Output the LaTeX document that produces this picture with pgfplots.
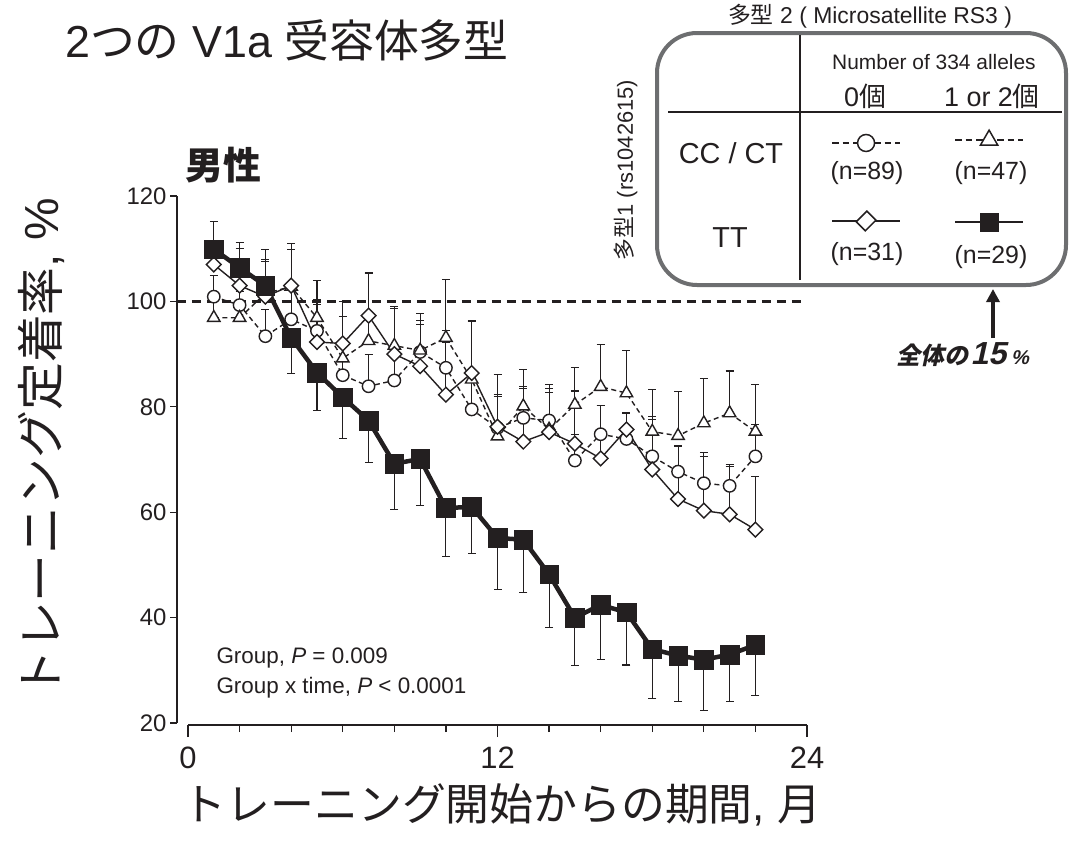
\documentclass[border=0pt]{standalone}
\usepackage{fontspec}
\setmainfont{Liberation Sans}
\newfontfamily\jp{Noto Sans CJK JP}
\usepackage{pgfplots}
\pgfplotsset{compat=1.18}
\usetikzlibrary{arrows.meta}
\definecolor{ink}{HTML}{231F20}
\definecolor{boxgray}{HTML}{6D6E70}
\newcommand{\fs}[1]{\fontsize{#1}{#1}\selectfont}
\begin{document}
\begin{tikzpicture}
\path[use as bounding box] (0bp,0bp) rectangle (1078bp,-845bp);
\begin{axis}[
  at={(188bp,-723bp)}, anchor=south west,
  scale only axis, width=619bp, height=527bp,
  xmin=0, xmax=24, ymin=20, ymax=120,
  axis lines=left, axis line style={-, line width=1.5bp, ink},
  axis y line shift=11bp, axis x line shift=2bp,
  clip=false,
  xtick={2,4,...,22}, xticklabels={},
  extra x ticks={0,12,24}, extra x tick labels={0,12,24},
  extra x tick style={major tick length=12bp, xticklabel style={yshift=-6bp}},
  ytick={20,40,...,120},
  tick align=outside, major tick length=7bp,
  tick style={line width=1.3bp, ink},
  /pgf/number format/assume math mode=true,
  yticklabel style={font=\fs{24}, text=ink},
  xticklabel style={font=\fs{31}, text=ink},
  error bars/error bar style={line width=1.1bp, ink, solid},
  error bars/error mark options={rotate=90, mark size=4bp, line width=1.1bp, solid, ink},
]
% reference line at 100
\addplot[ink, line width=2.5bp, dash pattern=on 9bp off 6bp, forget plot] coordinates {(-0.43,100) (23.75,100)};

% CC/CT, 0 alleles (circles, dashed)
\addplot[ink, line width=1.4bp, dash pattern=on 5bp off 3.5bp, mark=*, mark size=6.2bp,
  mark options={solid, fill=white, draw=ink, line width=1.4bp},
  error bars/.cd, y dir=plus, y explicit] coordinates {
(1,100.9) +- (0,4) (2,99.3) +- (0,4) (3,93.4) +- (0,5) (4,96.6) +- (0,6) (5,94.4) +- (0,5)
(6,86.0) +- (0,6) (7,83.9) +- (0,6) (8,85.0) +- (0,6) (9,90.4) +- (0,6) (10,87.4) +- (0,7)
(11,79.5) +- (0,6) (12,76.0) +- (0,6) (13,77.9) +- (0,6) (14,77.4) +- (0,6) (15,69.8) +- (0,5)
(16,74.8) +- (0,5.5) (17,73.9) +- (0,5) (18,70.6) +- (0,7) (19,67.7) +- (0,5) (20,65.5) +- (0,5)
(21,65.0) +- (0,4) (22,70.6) +- (0,6)};

% CC/CT, 1 or 2 alleles (triangles, dashed)
\addplot[ink, line width=1.4bp, dash pattern=on 5bp off 3.5bp, mark=triangle*, mark size=7.2bp,
  mark options={solid, fill=white, draw=ink, line width=1.4bp},
  error bars/.cd, y dir=plus, y explicit] coordinates {
(1,96.9) +- (0,5) (2,96.9) +- (0,5) (3,101.5) +- (0,6) (4,102.8) +- (0,7) (5,96.9) +- (0,7)
(6,89.2) +- (0,8) (7,92.5) +- (0,13) (8,91.6) +- (0,7) (9,90.7) +- (0,7) (10,93.1) +- (0,11)
(11,85.2) +- (0,11) (12,74.4) +- (0,8) (13,80.1) +- (0,7) (14,75.7) +- (0,7) (15,80.4) +- (0,7)
(16,83.8) +- (0,8) (17,82.6) +- (0,8) (18,75.3) +- (0,8) (19,74.5) +- (0,8.4) (20,76.9) +- (0,8.5)
(21,78.8) +- (0,8) (22,75.3) +- (0,9)};

% TT, 0 alleles (diamonds, solid)
\addplot[ink, line width=1.4bp, mark=square*, mark size=5.2bp,
  mark options={rotate=45, solid, fill=white, draw=ink, line width=1.4bp},
  error bars/.cd, y dir=plus, y explicit] coordinates {
(1,107.0) +- (0,3) (2,103.0) +- (0,7) (3,100.9) +- (0,7) (4,103.0) +- (0,8) (5,92.3) +- (0,8)
(6,92.0) +- (0,8) (7,97.3) +- (0,8) (8,90.0) +- (0,9) (9,87.7) +- (0,8) (10,82.3) +- (0,10)
(11,86.4) +- (0,10) (12,76.2) +- (0,10) (13,73.4) +- (0,10) (14,75.2) +- (0,9) (15,73.0) +- (0,10)
(16,70.2) +- (0,10) (17,75.7) +- (0,3) (18,68.1) +- (0,10) (19,62.5) +- (0,10) (20,60.3) +- (0,11)
(21,59.6) +- (0,9) (22,56.7) +- (0,10)};

% TT, 1 or 2 alleles (filled squares, thick)
\addplot[ink, line width=4.5bp, mark=square*, mark size=9.3bp,
  mark options={solid, fill=ink, draw=ink, line width=0.5bp},
  error bars/.cd, y dir=both, y explicit] coordinates {
(1,109.9) += (0,5.2) -= (0,0) (2,106.4) += (0,4.8) -= (0,0) (3,103.0) += (0,6.9) -= (0,0)
(4,93.1) += (0,0) -= (0,6.8) (5,86.5) += (0,0) -= (0,7.2) (6,81.8) += (0,0) -= (0,7.8)
(7,77.4) += (0,0) -= (0,7.9) (8,69.2) += (0,0) -= (0,8.7) (9,70.1) += (0,0) -= (0,8.9)
(10,60.8) += (0,0) -= (0,9.2) (11,61.0) += (0,0) -= (0,8.9) (12,55.1) += (0,0) -= (0,9.7)
(13,54.8) += (0,0) -= (0,10.1) (14,48.2) += (0,0) -= (0,10.1) (15,40.0) += (0,0) -= (0,9.1)
(16,42.4) += (0,0) -= (0,10.3) (17,41.0) += (0,0) -= (0,10.0) (18,34.0) += (0,0) -= (0,9.3)
(19,32.8) += (0,0) -= (0,8.7) (20,32.0) += (0,0) -= (0,9.7) (21,33.0) += (0,0) -= (0,8.9)
(22,34.8) += (0,0) -= (0,9.5)};

% legend samples (inside the table box)
\addplot[ink, line width=1.5bp, dash pattern=on 6.5bp off 4bp, mark=*, mark size=8.5bp,
  mark options={solid, fill=white, draw=ink, line width=1.5bp}, mark indices={2}, forget plot]
  coordinates {(24.97,130.06) (26.29,130.06) (27.61,130.06)};
\addplot[ink, line width=1.5bp, dash pattern=on 6.5bp off 4bp, mark=triangle*, mark size=10bp,
  mark options={solid, fill=white, draw=ink, line width=1.5bp}, mark indices={2}, forget plot]
  coordinates {(29.74,130.6) (31.06,130.6) (32.38,130.6)};
\addplot[ink, line width=1.5bp, mark=square*, mark size=7.5bp,
  mark options={rotate=45, yscale=0.85, solid, fill=white, draw=ink, line width=1.5bp}, mark indices={2}, forget plot]
  coordinates {(24.97,115.26) (26.29,115.26) (27.61,115.26)};
\addplot[ink, line width=1.5bp, mark=square*, mark size=9.3bp,
  mark options={solid, fill=ink, draw=ink, line width=0.5bp}, mark indices={2}, forget plot]
  coordinates {(29.74,115.02) (31.06,115.02) (32.38,115.02)};
\end{axis}

\begin{scope}[x=1bp,y=-1bp]
\node[anchor=west, font=\fs{45}, inner sep=0, text=ink] at (65,40) {2{\jp つの} V1a {\jp 受容体多型}};
\node[font=\jp\bfseries\fs{38}, text=ink] at (223,165) {男性};
\node[rotate=90, font=\fs{48}, text=ink] at (41,448) {{\jp トレーニング定着率}, \%};
\node[font=\fs{44}, text=ink] at (502,805) {{\jp トレーニング開始からの期間}, {\jp 月}};
\node[anchor=west, font=\fs{22.5}, text=ink] at (213,658) {Group, \textit{P} = 0.009};
\node[anchor=west, font=\fs{22.5}, text=ink] at (213,688) {Group x time, \textit{P} < 0.0001};

% table legend box
\draw[boxgray, line width=4bp, rounded corners=40bp] (657,33) rectangle (1066,285);
\draw[ink, line width=1.3bp] (800,35) -- (800,280);
\draw[ink, line width=1.3bp] (668,112) -- (1062,112);
\node[font=\fs{23}, text=ink] at (870,16) {{\jp 多型} 2 ( Microsatellite RS3 )};
\node[font=\fs{21}, text=ink] at (934,62) {Number of 334 alleles};
\node[font=\fs{27}, text=ink] at (865,96) {0{\jp 個}};
\node[font=\fs{27}, text=ink] at (992,96) {1 or 2{\jp 個}};
\node[font=\fs{29}, text=ink] at (731,153) {CC / CT};
\node[font=\fs{29}, text=ink] at (730,238) {TT};
\node[font=\fs{25}, text=ink] at (867,173) {(n=89)};
\node[font=\fs{25}, text=ink] at (991,173) {(n=47)};
\node[font=\fs{25}, text=ink] at (867,254) {(n=31)};
\node[font=\fs{25}, text=ink] at (991,257) {(n=29)};
\node[rotate=90, font=\fs{22}, text=ink] at (626,170) {{\jp 多型}1 (rs1042615)};

% arrow and note
\draw[ink, line width=4bp, -{Triangle[length=13bp,width=13bp]}] (993,338) -- (993,289);
\node[font=\bfseries, text=ink, xslant=0.22] at (965,355) {{\jp\fs{24}全体の}\kern2bp{\fs{32}15}\kern5bp{\fs{20}\%}};
\end{scope}
\end{tikzpicture}
\end{document}
